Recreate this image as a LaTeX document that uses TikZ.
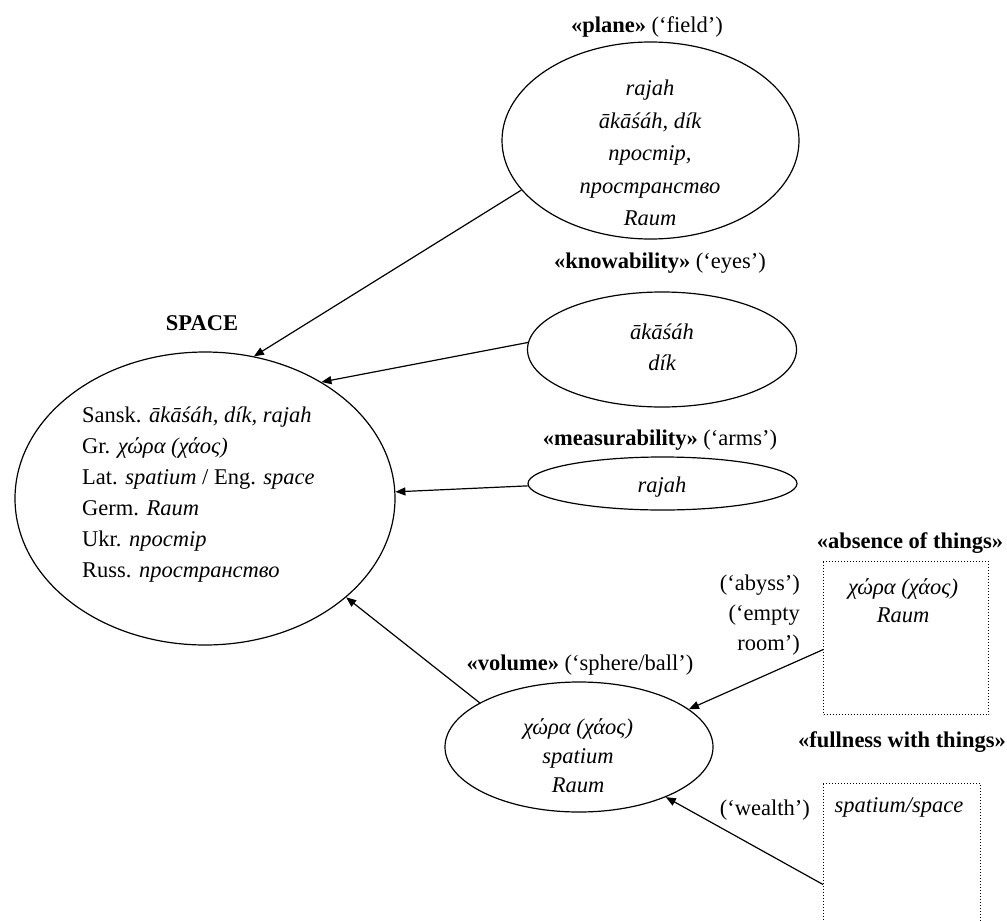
\documentclass[tikz,border=0pt]{standalone}
\usepackage{fontspec}
\setmainfont{Liberation Serif}
\usetikzlibrary{shapes.geometric, arrows.meta}
\begin{document}
\begin{tikzpicture}[x=1pt,y=-1pt,
  oval/.style={ellipse, draw, line width=1.2pt, inner sep=0pt},
  txt/.style={font=\fontsize{22.5}{31}\selectfont, inner sep=0pt, align=center},
  arr/.style={-{Triangle[length=10pt,width=8pt]}, line width=1.2pt},
  dotbox/.style={draw, dotted, line width=1pt, inner sep=0pt, anchor=north west}]
\useasboundingbox (0,0) rectangle (1007,921);
\clip (0,0) rectangle (1007,921);

% ellipses
\node[oval, minimum width=380pt, minimum height=293pt] (space) at (205,498.5) {};
\node[oval, minimum width=297pt, minimum height=197pt] (plane) at (650.5,140.5) {};
\node[oval, minimum width=269pt, minimum height=115pt] (know) at (662,349.5) {};
\node[oval, minimum width=269pt, minimum height=53pt] (meas) at (662.5,483.5) {};
\node[oval, minimum width=268pt, minimum height=130pt] (vol) at (579,747) {};

% dotted boxes
\node[dotbox, minimum width=165pt, minimum height=153pt] (absence) at (823,561) {};
\node[dotbox, minimum width=157pt, minimum height=202pt] (fullness) at (823,783) {};

% texts
\node[txt] (spaceL) at (202,323) {\textbf{SPACE}};
\node[txt, align=left, anchor=west] (spaceT) at (82,495) {Sansk. \textit{ākāśáh, dík, rajah}\\
Gr. \textit{χώρα (χάος)}\\
Lat. \textit{spatium} / Eng. \textit{space}\\
Germ. \textit{Raum}\\
Ukr. \textit{простір}\\
Russ. \textit{пространство}};

\node[txt] (planeL) at (647,27) {\textbf{«plane»} (‘field’)};
\node[txt, font=\fontsize{22.5}{32.5}\selectfont\itshape] (planeT) at (650,153) {rajah\\ākāśáh, dík\\простір,\\пространство\\Raum};

\node[txt] (knowL) at (660,263) {\textbf{«knowability»} (‘eyes’)};
\node[txt, font=\fontsize{22.5}{31}\selectfont\itshape] (knowT) at (662,347) {ākāśáh\\dík};

\node[txt] (measL) at (660,440) {\textbf{«measurability»} (‘arms’)};
\node[txt, font=\fontsize{22.5}{31}\selectfont\itshape] (measT) at (662,487) {rajah};

\node[txt] (volL) at (580,665) {\textbf{«volume»} (‘sphere/ball’)};
\node[txt, font=\fontsize{22.5}{29}\selectfont\itshape] (volT) at (578,756) {χώρα (χάος)\\spatium\\Raum};

\node[txt] (absL) at (910,543) {\textbf{«absence of things»}};
\node[txt, font=\fontsize{22.5}{28}\selectfont\itshape] (absT) at (903,601) {χώρα (χάος)\\Raum};

\node[txt] (fullL) at (902,742) {\textbf{«fullness with things»}};
\node[txt, font=\fontsize{22.5}{31}\selectfont\itshape] (fullT) at (899,807) {spatium/space};

\node[txt, align=right, anchor=east, font=\fontsize{22.5}{30}\selectfont] (abyssT) at (800,615) {(‘abyss’)\\(‘empty\\room’)};
\node[txt, anchor=east] (wealthT) at (810,810) {(‘wealth’)};

% connectors
\draw[arr] (plane.201) -- (space.71.4);
\draw[arr] (know.177) -- (space.45.4);
\draw[arr] (meas.181) -- (space.2);
\draw[arr] (vol.156) -- (space.-35.6);
\draw[arr] (absence.188.6) -- (vol.19.4);
\draw[arr] (fullness.west) -- (vol.-30.6);
\end{tikzpicture}
\end{document}
